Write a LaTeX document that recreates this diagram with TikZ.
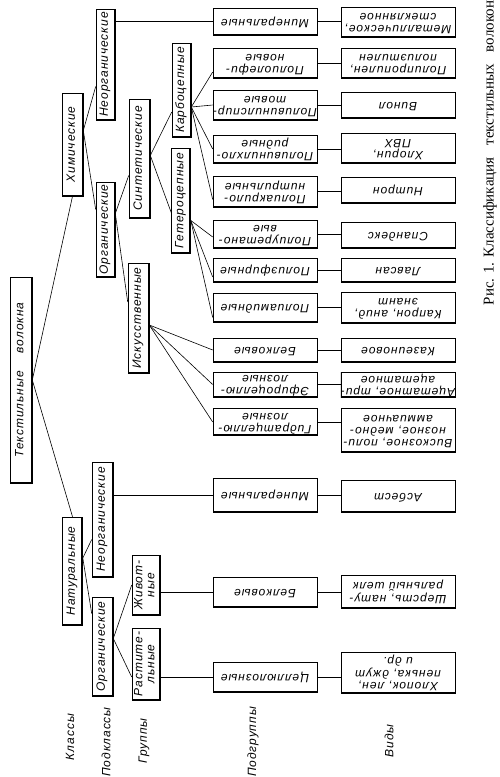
\documentclass[tikz,border=0pt]{standalone}
\usepackage{fontspec}
\usepackage{graphicx}
\usetikzlibrary{calc}
\newfontfamily\drf{Liberation Sans}[LetterSpace=8]
\newfontfamily\capfont{Liberation Serif}
\newcommand{\vtext}[1]{\rotatebox{90}{\begin{tabular}{@{}c@{}}#1\end{tabular}}}
\newcommand{\flip}[1]{\rotatebox{180}{\begin{tabular}{@{}c@{}}#1\end{tabular}}}
\tikzset{
  box/.style={draw, line width=0.6pt, inner sep=0pt,
    font=\drf\itshape\fontsize{12}{12}\selectfont,
    path picture={\draw[line width=2.4pt] (path picture bounding box.north east)
      -- (path picture bounding box.south east) -- (path picture bounding box.south west);}},
  sub/.style={draw, line width=0.6pt, inner sep=0pt, minimum width=104pt,
    font=\drf\itshape\fontsize{12}{12}\selectfont,
    path picture={\draw[line width=2.4pt] (path picture bounding box.north west)
      -- (path picture bounding box.south west) -- (path picture bounding box.south east);}},
  kind/.style={draw, line width=0.6pt, inner sep=0pt, minimum width=114pt,
    font=\drf\itshape\fontsize{12}{12}\selectfont,
    path picture={\draw[line width=1.6pt] (path picture bounding box.north west)
      -- (path picture bounding box.south west) -- (path picture bounding box.south east);}},
  link/.style={line width=0.6pt},
  colname/.style={rotate=90, inner sep=0pt, font=\drf\itshape\fontsize{12}{12}\selectfont}
}
\begin{document}
\begin{tikzpicture}[x=1pt, y=-1pt]
\useasboundingbox[fill=white] (0,0) rectangle (500,777);
% classes and subclasses
\node[box, minimum width=22pt, minimum height=206pt] (tv) at (21,380) {\vtext{Текстильные\hspace{18pt}волокна}};
\node[box, minimum width=21pt, minimum height=103pt] (chem) at (72.5,144.5) {\vtext{Химические}};
\node[box, minimum width=20pt, minimum height=108pt] (natur) at (72.5,571) {\vtext{Натуральные}};
\node[box, minimum width=19pt, minimum height=111pt] (cinorg) at (105.5,64.5) {\vtext{Неорганические}};
\node[box, minimum width=19pt, minimum height=95pt] (corg) at (105.5,229.5) {\vtext{Органические}};
\node[box, minimum width=21pt, minimum height=115pt] (ninorg) at (102.5,519.5) {\vtext{Неорганические}};
\node[box, minimum width=21pt, minimum height=99pt] (norg) at (102.5,646.5) {\vtext{Органические}};
% groups
\node[box, minimum width=21pt, minimum height=119pt] (synth) at (139.5,158.5) {\vtext{Синтетические}};
\node[box, minimum width=21pt, minimum height=110pt] (artif) at (138.5,318) {\vtext{Искусственные}};
\node[box, minimum width=19pt, minimum height=94pt] (carbo) at (181.5,90) {\vtext{Карбоцепные}};
\node[box, minimum width=19pt, minimum height=105pt] (hetero) at (181,200.5) {\vtext{Гетероцепные}};
\node[box, minimum width=28pt, minimum height=60pt] (animal) at (146,585) {\vtext{Живот-\\ные}};
\node[box, minimum width=28pt, minimum height=72pt] (plant) at (146,664) {\vtext{Растите-\\льные}};
% subgroups
\node[sub, minimum height=27pt] (r1) at (265,21.5) {\flip{Минеральные}};
\node[sub, minimum height=30pt] (r2) at (265,63) {\flip{Полиолефи-\\новые}};
\node[sub, minimum height=30pt] (r3) at (265,105) {\flip{Поливинилспир-\\товые}};
\node[sub, minimum height=28pt] (r4) at (265,149) {\flip{Поливинилхло-\\ридные}};
\node[sub, minimum height=31pt] (r5) at (265,191.5) {\flip{Полиакрило-\\нитрильные}};
\node[sub, minimum height=28pt] (r6) at (265,234) {\flip{Полиуретано-\\вые}};
\node[sub, minimum height=24pt] (r7) at (265,270) {\flip{Полиэфирные}};
\node[sub, minimum height=29pt] (r8) at (265,307.5) {\flip{Полиамидные}};
\node[sub, minimum height=24pt] (r9) at (265,350) {\flip{Белковые}};
\node[sub, minimum height=25pt] (r10) at (265,384.5) {\flip{Эфироцеллю-\\лозные}};
\node[sub, minimum height=27pt] (r11) at (265,422) {\flip{Гидратцеллю-\\лозные}};
\node[sub, minimum height=34pt] (r12) at (265,495) {\flip{Минеральные}};
\node[sub, minimum height=30pt] (r13) at (265,592) {\flip{Белковые}};
\node[sub, minimum height=30pt] (r14) at (265,677) {\flip{Целлюлозные}};
% kinds
\node[kind, minimum height=30pt] (v1) at (398,22) {\flip{Металлическое,\\стеклянное}};
\node[kind, minimum height=30pt] (v2) at (398,63) {\flip{Полипропилен,\\полиэтилен}};
\node[kind, minimum height=26pt] (v3) at (398,105) {\flip{Винол}};
\node[kind, minimum height=30pt] (v4) at (398,148) {\flip{Хлорин,\\ПВХ}};
\node[kind, minimum height=26pt] (v5) at (398,190) {\flip{Нитрон}};
\node[kind, minimum height=26pt] (v6) at (398,235) {\flip{Спандекс}};
\node[kind, minimum height=24pt] (v7) at (398,270) {\flip{Лавсан}};
\node[kind, minimum height=31pt] (v8) at (398,307.5) {\flip{Капрон, анид,\\энант}};
\node[kind, minimum height=24pt] (v9) at (398,350) {\flip{Казеиновое}};
\node[kind, minimum height=25pt] (v10) at (398,384.5) {\flip{Ацетатное, три-\\ацетатное}};
\node[kind, minimum height=44pt] (v11) at (398,430) {\flip{Вискозное, поли-\\нозное, медно-\\аммиачное}};
\node[kind, minimum height=32pt] (v12) at (398,496) {\flip{Асбест}};
\node[kind, minimum height=33pt] (v13) at (398,591.5) {\flip{Шерсть, нату-\\ральный шелк}};
\node[kind, minimum height=41pt] (v14) at (398,672.5) {\flip{Хлопок, лен,\\пенька, джут\\и др.}};
% column names and caption
\node[colname] (lclass) at (70,737) {Классы};
\node[colname] (lsubclass) at (106,742) {Подклассы};
\node[colname] (lgroup) at (144,741) {Группы};
\node[colname] (lsubgroup) at (253,742) {Подгруппы};
\node[colname] (lkind) at (389,741) {Виды};
\node[rotate=90, inner sep=0pt, font=\capfont\fontsize{15}{15}\selectfont] (caption) at (490,153)
  {Рис. 1. Классификация\hspace{12pt}текстильных\hspace{12pt}волокон};
% tree
\draw[link] (tv.east) -- (chem.south);
\draw[link] (tv.east) -- (natur.north);
\draw[link] ([yshift=14pt]chem.east) -- ([yshift=-22pt]cinorg.west);
\draw[link] ([yshift=14pt]chem.east) -- ([yshift=20pt]corg.west);
\draw[link] ([yshift=16pt]corg.east) -- ([yshift=-17pt]synth.west);
\draw[link] ([yshift=16pt]corg.east) -- ([yshift=16pt]artif.west);
\draw[link] ([yshift=3pt]synth.east) -- ([yshift=-22pt]carbo.west);
\draw[link] ([yshift=3pt]synth.east) -- ([yshift=-12pt]hetero.west);
\draw[link] ([yshift=13pt]natur.east) -- ([yshift=-20pt]ninorg.west);
\draw[link] ([yshift=13pt]natur.east) -- ([yshift=33pt]norg.west);
\draw[link] ([yshift=8pt]norg.east) -- (animal.west);
\draw[link] ([yshift=8pt]norg.east) -- ([yshift=-13pt]plant.west);
% groups to subgroups
\draw[link] (cinorg.east |- r1.west) -- (r1.west);
\draw[link] ([yshift=-17pt]carbo.east) -- ([yshift=-9pt]r2.west);
\draw[link] ([yshift=-17pt]carbo.east) -- (r3.west);
\draw[link] ([yshift=-17pt]carbo.east) -- (r4.west);
\draw[link] ([yshift=-17pt]carbo.east) -- ([yshift=-8pt]r5.west);
\draw[link] ([yshift=-20pt]hetero.east) -- ([yshift=-3pt]r6.west);
\draw[link] ([yshift=-20pt]hetero.east) -- ([yshift=-7pt]r7.west);
\draw[link] ([yshift=-20pt]hetero.east) -- ([yshift=-10pt]r8.west);
\draw[link] ([yshift=-7pt]artif.east) -- (r9.west);
\draw[link] ([yshift=-7pt]artif.east) -- (r10.west);
\draw[link] ([yshift=-7pt]artif.east) -- (r11.west);
\draw[link] (ninorg.east |- r12.west) -- (r12.west);
\draw[link] (animal.east |- r13.west) -- (r13.west);
\draw[link] (plant.east |- r14.west) -- (r14.west);
% subgroups to kinds
\foreach \i in {1,...,14}
  \draw[link] (r\i.east) -- (r\i.east -| v\i.west);
\end{tikzpicture}
\end{document}
